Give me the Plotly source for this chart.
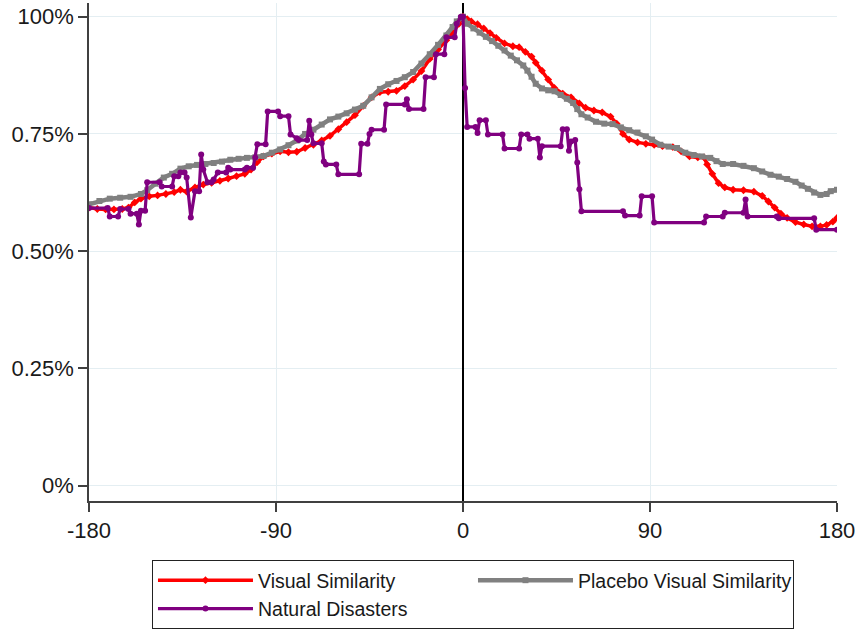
import plotly.graph_objects as go

# ---- Visual Similarity (red) ----
vs_days = [-180, -176, -172, -168, -164, -161, -158, -155, -151, -147, -143, -139, -136, -133,
           -129, -125, -121, -117, -113, -109, -105, -102, -99, -96, -92, -88, -84, -80, -76,
           -72, -68, -64, -60, -56, -52, -48, -44, -40, -36, -32, -28, -24, -20, -16, -12,
           -8, -5, -2, 0,
           2, 4, 7, 10, 13, 16, 20, 24, 27, 30, 33, 35, 38, 41, 44, 48, 52, 56, 59, 63, 67,
           71, 74, 77, 80, 84, 88, 92, 96, 101, 105, 109, 113, 116, 117.5, 120, 123, 126,
           130, 135, 140, 144, 147, 150, 153, 156, 160, 164, 168, 172, 175, 178, 180]
vs_vals = [0.593, 0.590, 0.589, 0.589, 0.590, 0.593, 0.604, 0.612, 0.617, 0.619, 0.622, 0.626,
           0.631, 0.627, 0.636, 0.642, 0.646, 0.650, 0.655, 0.660, 0.665, 0.674, 0.690, 0.702,
           0.708, 0.713, 0.711, 0.712, 0.720, 0.727, 0.736, 0.746, 0.760, 0.775, 0.790, 0.810,
           0.828, 0.839, 0.840, 0.842, 0.852, 0.866, 0.884, 0.910, 0.930, 0.950, 0.966, 0.985,
           1.000,
           0.995, 0.990, 0.984, 0.975, 0.965, 0.955, 0.943, 0.937, 0.935, 0.925, 0.915, 0.902,
           0.885, 0.866, 0.848, 0.836, 0.828, 0.815, 0.806, 0.800, 0.796, 0.787, 0.772, 0.750,
           0.738, 0.732, 0.729, 0.727, 0.724, 0.722, 0.713, 0.702, 0.700, 0.700, 0.685, 0.665,
           0.645, 0.636, 0.631, 0.630, 0.627, 0.618, 0.606, 0.593, 0.580, 0.571, 0.562, 0.557,
           0.553, 0.553, 0.556, 0.563, 0.571]

# ---- Placebo Visual Similarity (gray) ----
pvs_days = [-180, -175, -170, -165, -160, -155, -152, -148, -144, -140, -136, -132, -128, -124,
            -120, -116, -112, -108, -104, -100, -96, -92, -88, -84, -80, -76, -72, -68, -64,
            -60, -56, -52, -48, -44, -40, -36, -32, -28, -24, -20, -16, -12, -8, -5, -3, -1, 0,
            2, 5, 8, 11, 14, 17, 20, 23, 26, 29, 31, 33, 35, 38, 41, 44, 47, 50, 53, 55, 57,
            60, 64, 68, 72, 76, 80, 84, 88, 91, 95, 99, 103, 107, 111, 115, 119, 122, 125,
            130, 135, 140, 144, 148, 152, 156, 160, 163, 166, 169, 172, 175, 177, 180]
pvs_vals = [0.600, 0.607, 0.612, 0.614, 0.616, 0.622, 0.630, 0.644, 0.657, 0.665, 0.676, 0.681,
            0.684, 0.686, 0.688, 0.691, 0.695, 0.697, 0.699, 0.700, 0.703, 0.710, 0.717, 0.726,
            0.736, 0.750, 0.759, 0.770, 0.781, 0.787, 0.794, 0.802, 0.810, 0.828, 0.846, 0.856,
            0.863, 0.871, 0.882, 0.900, 0.920, 0.940, 0.960, 0.978, 0.990, 0.997, 1.000,
            0.985, 0.975, 0.966, 0.957, 0.948, 0.938, 0.928, 0.917, 0.907, 0.896, 0.885, 0.872,
            0.857, 0.847, 0.843, 0.841, 0.833, 0.825, 0.816, 0.803, 0.792, 0.785, 0.776, 0.772,
            0.771, 0.764, 0.758, 0.753, 0.745, 0.738, 0.727, 0.723, 0.720, 0.710, 0.705, 0.702,
            0.699, 0.692, 0.686, 0.686, 0.682, 0.677, 0.670, 0.663, 0.659, 0.654, 0.648, 0.640,
            0.633, 0.625, 0.620, 0.622, 0.628, 0.631]

# ---- Natural Disasters (purple) ----
nd_days = [-180, -171, -170, -166, -165, -161, -160, -157, -156, -155, -153, -152, -146, -145,
           -140, -139, -137, -136, -134, -133, -131, -129, -127, -126, -125, -123, -121, -120,
           -118, -114, -113, -112, -105, -104, -101, -100, -99, -95, -94, -89, -88, -84, -83,
           -80, -79, -75, -74, -73, -72, -68, -67, -66, -61, -60, -50, -49, -46, -45, -44,
           -38, -37, -28, -27, -26, -19, -18, -14, -13, -9, -8, -4, -3, -1, 0,
           1, 2, 6, 7, 8, 11, 12, 19, 20, 27, 28, 31, 32, 36, 37, 38, 47, 48, 50, 51, 52, 54,
           55, 56, 57, 77, 78, 85, 86, 91, 92, 116, 117, 125, 126, 135, 136, 137, 151, 152,
           169, 170, 180]
nd_vals = [0.592, 0.592, 0.574, 0.574, 0.590, 0.590, 0.580, 0.580, 0.557, 0.586, 0.586, 0.647,
           0.647, 0.638, 0.638, 0.660, 0.660, 0.668, 0.668, 0.657, 0.572, 0.628, 0.628, 0.706,
           0.674, 0.647, 0.647, 0.653, 0.668, 0.668, 0.678, 0.674, 0.674, 0.678, 0.678, 0.700,
           0.728, 0.728, 0.798, 0.798, 0.788, 0.788, 0.749, 0.741, 0.737, 0.737, 0.778, 0.749,
           0.730, 0.730, 0.691, 0.685, 0.685, 0.664, 0.664, 0.729, 0.729, 0.750, 0.759, 0.759,
           0.813, 0.813, 0.824, 0.803, 0.803, 0.871, 0.871, 0.920, 0.920, 0.956, 0.956, 0.985,
           1.000, 1.000,
           0.848, 0.765, 0.765, 0.752, 0.779, 0.779, 0.749, 0.749, 0.719, 0.719, 0.749, 0.749,
           0.740, 0.740, 0.700, 0.724, 0.724, 0.760, 0.760, 0.714, 0.734, 0.737, 0.689, 0.632,
           0.585, 0.585, 0.576, 0.576, 0.617, 0.617, 0.561, 0.561, 0.574, 0.574, 0.582, 0.582,
           0.610, 0.574, 0.574, 0.570, 0.570, 0.546, 0.546]

x_ticks = [-180, -90, 0, 90, 180]
x_ticktext = ["-180", "-90", "0", "90", "180"]
y_ticks = [0, 0.25, 0.5, 0.75, 1.0]
y_ticktext = ["0%", "0.25%", "0.50%", "0.75%", "100%"]

FONT = "Liberation Sans, Arial, sans-serif"

fig = go.Figure()
fig.add_trace(go.Scatter(
    x=vs_days, y=vs_vals, mode="lines+markers", name="Visual Similarity",
    line=dict(color="#ff0000", width=3.5),
    marker=dict(symbol="diamond", size=6, color="#ff0000")))
fig.add_trace(go.Scatter(
    x=pvs_days, y=pvs_vals, mode="lines+markers", name="Placebo Visual Similarity",
    line=dict(color="#808080", width=4.5),
    marker=dict(symbol="square", size=6, color="#808080")))
fig.add_trace(go.Scatter(
    x=nd_days, y=nd_vals, mode="lines+markers", name="Natural Disasters",
    line=dict(color="#800080", width=3.2),
    marker=dict(symbol="circle", size=6, color="#800080")))

fig.update_layout(
    width=856, height=635,
    margin=dict(l=89, r=19, t=3, b=134, autoexpand=False),
    paper_bgcolor="white", plot_bgcolor="white",
    font=dict(family=FONT, color="#1a1a1a"),
    showlegend=True,
    legend=dict(
        orientation="h", x=0.0842, y=-0.1185, xanchor="left", yanchor="top",
        bordercolor="#222222", borderwidth=1, bgcolor="white",
        font=dict(family=FONT, size=19.5, color="#1a1a1a"),
        entrywidth=210, entrywidthmode="pixels", itemwidth=95,
    ),
)
fig.update_xaxes(
    range=[-180, 180], tickvals=x_ticks, ticktext=x_ticktext,
    showline=True, linecolor="#404040", linewidth=1.5,
    ticks="outside", ticklen=9, tickcolor="#404040", tickwidth=1.5,
    showgrid=True, gridcolor="#e4eef2", gridwidth=1,
    zeroline=True, zerolinecolor="#000000", zerolinewidth=1.5,
    tickfont=dict(size=22, family=FONT), automargin=False, fixedrange=True,
    ticklabeloverflow="allow",
)
fig.update_yaxes(
    range=[-0.0326, 1.0292], tickvals=y_ticks, ticktext=y_ticktext,
    showline=True, linecolor="#404040", linewidth=1.5,
    ticks="outside", ticklen=9, tickcolor="#404040", tickwidth=1.5,
    showgrid=True, gridcolor="#e4eef2", gridwidth=1,
    zeroline=False,
    tickfont=dict(size=22, family=FONT), automargin=False, fixedrange=True,
    ticklabeloverflow="allow",
)

# remove the default 8px page margin so the figure fills the window exactly
fig.write_html("out.html",
               config={"displayModeBar": False},
               post_script="document.body.style.margin='0';document.body.style.overflow='hidden';")
